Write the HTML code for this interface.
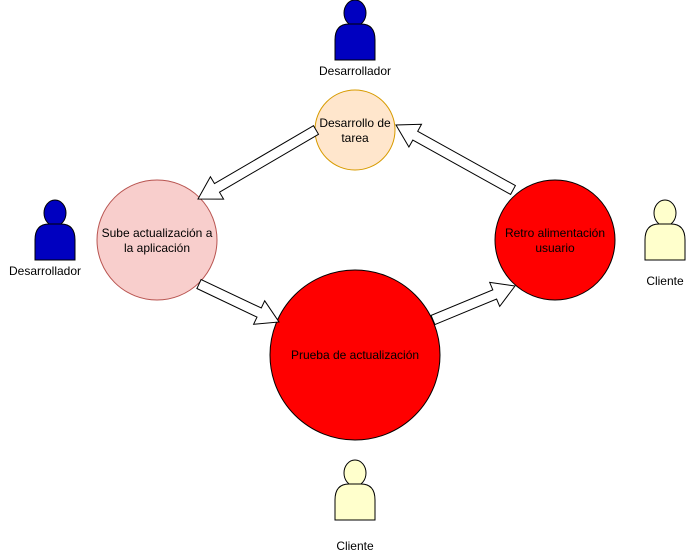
<!DOCTYPE html>
<html><head><meta charset="utf-8"><style>
body{margin:0;background:#fff;}
svg{display:block;font-family:"Liberation Sans",sans-serif;}
</style></head><body>
<svg id="s" width="691" height="556" viewBox="0 0 691 556" xmlns="http://www.w3.org/2000/svg">
<defs>
<g id="user">
<ellipse cx="20" cy="13" rx="11" ry="13"/>
<path d="M0,60 L0,40 Q0,24 14,24 L26,24 Q40,24 40,40 L40,60 Z"/>
</g>
</defs>
<g stroke="#000" stroke-width="1" fill="#0000c0">
<use href="#user" x="335" y="0"/>
<use href="#user" x="35" y="200"/>
</g>
<g stroke="#000" stroke-width="1" fill="#ffffcc">
<use href="#user" x="645" y="200"/>
<use href="#user" x="335" y="460"/>
</g>
<circle cx="355" cy="130" r="40" fill="#ffe6cc" stroke="#d79b00"/>
<circle cx="157" cy="240" r="60" fill="#f8cecc" stroke="#b85450"/>
<circle cx="355" cy="355" r="85" fill="#ff0000" stroke="#000"/>
<circle cx="555" cy="240" r="60" fill="#ff0000" stroke="#000"/>
<g id="arrows" fill="#fff" stroke="#000" stroke-width="1"></g>
<g font-size="12" fill="#000" text-anchor="middle">
<text x="355" y="75">Desarrollador</text>
<text x="45" y="275">Desarrollador</text>
<text x="665" y="285">Cliente</text>
<text x="355" y="550">Cliente</text>
<text x="355" y="127">Desarrollo de</text>
<text x="355" y="142">tarea</text>
<text x="157" y="237">Sube actualización a</text>
<text x="157" y="252">la aplicación</text>
<text x="355" y="359">Prueba de actualización</text>
<text x="555" y="237">Retro alimentación</text>
<text x="555" y="252">usuario</text>
</g>
</svg>
<script>
function arrow(x1,y1,x2,y2){
 var dx=x2-x1,dy=y2-y1,L=Math.hypot(dx,dy),ux=dx/L,uy=dy/L,nx=-uy,ny=ux;
 var sw=5,hw=13,hl=22,bx=x2-ux*hl,by=y2-uy*hl;
 var p=[[x1+nx*sw,y1+ny*sw],[bx+nx*sw,by+ny*sw],[bx+nx*hw,by+ny*hw],[x2,y2],[bx-nx*hw,by-ny*hw],[bx-nx*sw,by-ny*sw],[x1-nx*sw,y1-ny*sw]];
 var e=document.createElementNS("http://www.w3.org/2000/svg","polygon");
 e.setAttribute("points",p.map(function(q){return q[0].toFixed(1)+","+q[1].toFixed(1)}).join(" "));
 document.getElementById("arrows").appendChild(e);
}
arrow(316,130,198,199);
arrow(199,284,279,322);
arrow(433,320,515,286);
arrow(513,190,396,125);
</script>
</body></html>
